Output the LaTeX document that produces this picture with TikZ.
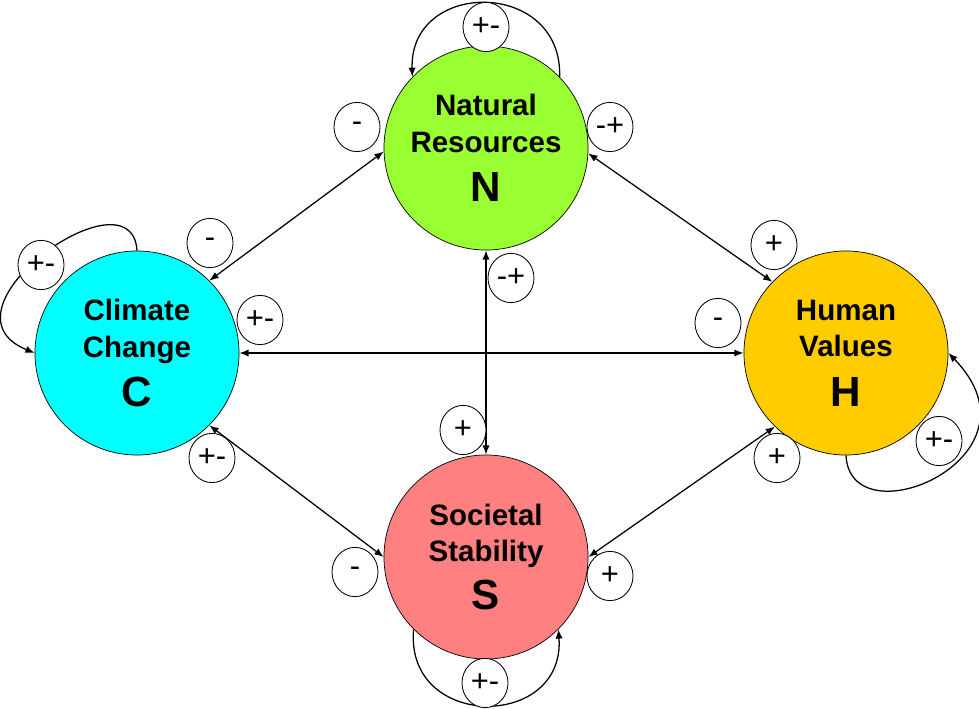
\documentclass[tikz,border=0pt]{standalone}
\usepackage{fontspec}
\setmainfont{Liberation Sans}
\usepackage{tikz}
\usetikzlibrary{arrows.meta, shapes.geometric}
\definecolor{natgreen}{RGB}{153,255,51}
\definecolor{climcyan}{RGB}{0,255,255}
\definecolor{humgold}{RGB}{255,204,0}
\definecolor{socred}{RGB}{255,128,128}
\newcommand{\factorletter}[1]{{\fontsize{30}{30}\selectfont #1}}

\begin{document}
\begin{tikzpicture}[
      x=0.025cm, y=-0.025cm,
      factor/.style={circle, draw=black, line width=0.5pt,
                     minimum size=5.1cm, inner sep=0pt, align=center,
                     font=\fontsize{21}{26}\selectfont\bfseries},
      sign/.style={ellipse, draw=black, fill=white, line width=0.6pt,
                   minimum width=1.15cm, minimum height=1.23cm,
                   inner sep=0pt, font=\fontsize{22}{22}\selectfont},
      link/.style={line width=0.9pt,
                   {Latex[length=2.3mm,width=1.8mm]}-{Latex[length=2.3mm,width=1.8mm]}},
      selfloop/.style={line width=0.9pt, -{Latex[length=2.3mm,width=1.8mm]}}
    ]
    \useasboundingbox (0,0) rectangle (979,709);

    % the four factors
    \node[factor, fill=natgreen] (N) at (486,148)
      {Natural\\Resources\\[9pt]\factorletter{N}};
    \node[factor, fill=climcyan] (C) at (137,353)
      {Climate\\Change\\[9pt]\factorletter{C}};
    \node[factor, fill=humgold] (H) at (846,353)
      {Human\\Values\\[9pt]\factorletter{H}};
    \node[factor, fill=socred] (S) at (486,557)
      {Societal\\Stability\\[8pt]\factorletter{S}};

    % mutual links
    \draw[link] (N.182) -- (C.45);
    \draw[link] (N.357) -- (H.136);
    \draw[link] (N.south) -- (S.north);
    \draw[link] (C.east) -- (H.west);
    \draw[link] (C.315) -- (S.west);
    \draw[link] (H.226) -- (S.east);

    % self feedback
    \draw[selfloop] (N.44) .. controls +(3,-98) and +(-3,-98) .. (N.136);
    \draw[selfloop] (C.90) .. controls +(-5,-84) and +(-105,-43) .. (C.180);
    \draw[selfloop] (H.270) .. controls +(4,86) and +(102,105) .. (H.0);
    \draw[selfloop] (S.225) .. controls +(-9,101) and +(7,101) .. (S.315);

    % signs
    \node[sign] (sNloop) at (486,27) {+-};
    \node[sign] (sNC) at (357,127) {-};
    \node[sign] (sCN) at (210,243) {-};
    \node[sign] (sNH) at (610,127) {-+};
    \node[sign] (sHN) at (774,245) {+};
    \node[sign] (sNS) at (511,278) {-+};
    \node[sign] (sSN) at (463,430) {+};
    \node[sign] (sCH) at (260,320) {+-};
    \node[sign] (sHC) at (718,323) {-};
    \node[sign] (sCloop) at (41,265) {+-};
    \node[sign] (sCS) at (212,458) {+-};
    \node[sign] (sSC) at (355,572) {-};
    \node[sign] (sHS) at (777,458) {+};
    \node[sign] (sSH) at (610,576) {+};
    \node[sign] (sHloop) at (939,441) {+-};
    \node[sign] (sSloop) at (485,683) {+-};
  \end{tikzpicture}
\end{document}
